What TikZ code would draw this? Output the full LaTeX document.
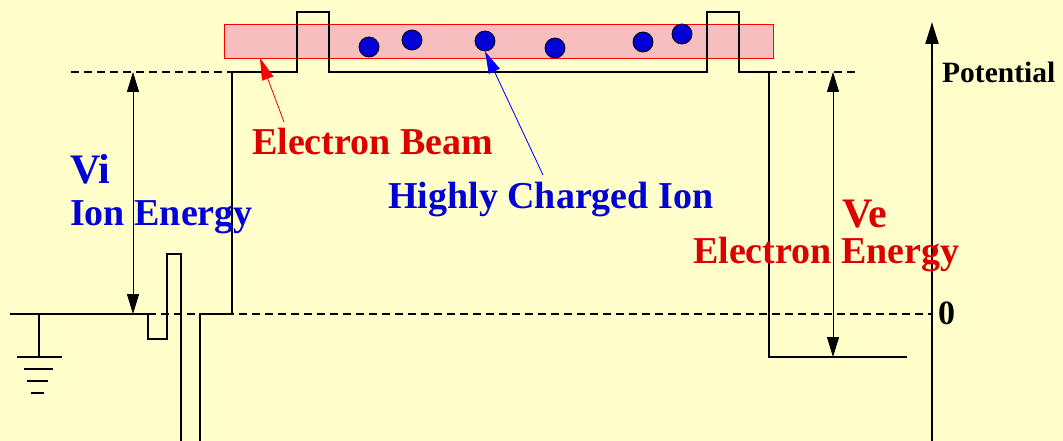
\documentclass[tikz,border=0pt]{standalone}
\usepackage{fontspec}
\setmainfont{Liberation Serif}
\usetikzlibrary{arrows.meta}
\definecolor{bgyellow}{RGB}{255,255,204}
\definecolor{beampink}{RGB}{247,190,192}
\definecolor{txtred}{RGB}{220,0,0}
\definecolor{txtblue}{RGB}{0,0,215}
\tikzset{
  lbl/.style={anchor=base west,inner sep=0pt,font=\fontsize{38}{40}\selectfont\bfseries},
  biglbl/.style={lbl,font=\fontsize{42}{44}\selectfont\bfseries},
  ion/.style={circle,draw=black,fill=txtblue,minimum size=20pt,inner sep=0pt,line width=0.8pt},
  level/.style={dash pattern=on 8pt off 5pt,line width=1.3pt},
  measure/.style={line width=1pt,{Triangle[length=20pt,width=12pt]}-{Triangle[length=20pt,width=12pt]}},
  pointer/.style={line width=0.8pt,-{Triangle[length=22pt,width=12pt]}}
}
\begin{document}
\begin{tikzpicture}[x=1pt,y=-1pt]
  \fill[bgyellow] (0,0) rectangle (1063,441);
  \useasboundingbox (0,0) rectangle (1063,441);
  %
  \node[draw=red,fill=beampink,line width=0.8pt,minimum width=549pt,minimum height=34pt,inner sep=0pt] (beam) at (498.5,41) {};
  \node[ion] (ion1) at (369,47) {};
  \node[ion] (ion2) at (412,40) {};
  \node[ion] (ion3) at (485,41) {};
  \node[ion] (ion4) at (555,48) {};
  \node[ion] (ion5) at (643,42) {};
  \node[ion] (ion6) at (682,34) {};
  %
  \draw[level] (71,72) -- (232,72);
  \draw[level] (769,72) -- (859,72);
  \draw[level] (148,314) -- (932,314);
  %
  \draw[line width=1.3pt] (10,314) -- (148,314) -- (148,339) -- (167,339) -- (167,254) -- (181,254) -- (181,441);
  \draw[line width=1.3pt] (200,441) -- (200,314) -- (232,314) -- (232,72) -- (297,72) -- (297,12) -- (329,12) -- (329,72)
    -- (707,72) -- (707,12) -- (739,12) -- (739,72) -- (769,72) -- (769,357) -- (907,357);
  %
  \draw[line width=1.3pt] (39,314) -- (39,357);
  \draw[line width=1.3pt] (17,357) -- (62,357);
  \draw[line width=1.3pt] (24,369) -- (53,369);
  \draw[line width=1.3pt] (27,381) -- (48,381);
  \draw[line width=1.3pt] (31,393) -- (44,393);
  %
  \coordinate (vitop) at (133,72);
  \coordinate (vibot) at (133,314);
  \draw[measure] (vitop) -- (vibot);
  \coordinate (vetop) at (833,72);
  \coordinate (vebot) at (833,357);
  \draw[measure] (vetop) -- (vebot);
  %
  \coordinate (axbot) at (932,441);
  \coordinate (axtop) at (932,22);
  \draw[line width=2pt,-{Triangle[length=22pt,width=13pt]}] (axbot) -- (axtop);
  \node[lbl,font=\fontsize{29.5}{31}\selectfont\bfseries] (pot) at (942,83) {Potential};
  \node[lbl,font=\fontsize{34}{36}\selectfont\bfseries] (zero) at (938,324) {0};
  %
  \node[biglbl,text=txtblue] (vi) at (70,183) {Vi};
  \node[lbl,text=txtblue] (ionen) at (70,225) {Ion Energy};
  \node[biglbl,text=txtred] (ve) at (842,227) {Ve};
  \node[lbl,text=txtred] (elen) at (693,263) {Electron Energy};
  \node[lbl,text=txtred] (ebeam) at (252,155) {Electron Beam};
  \node[lbl,text=txtblue] (hci) at (388,208) {Highly Charged Ion};
  %
  \coordinate (beamtip) at (260,58);
  \coordinate (ebtail) at (284,122);
  \draw[pointer,draw=red,fill=red] (ebtail) -- (beamtip);
  \coordinate (hcitail) at (543,175);
  \draw[pointer,draw=blue,fill=blue] (hcitail) -- (ion3.south);
\end{tikzpicture}
\end{document}
